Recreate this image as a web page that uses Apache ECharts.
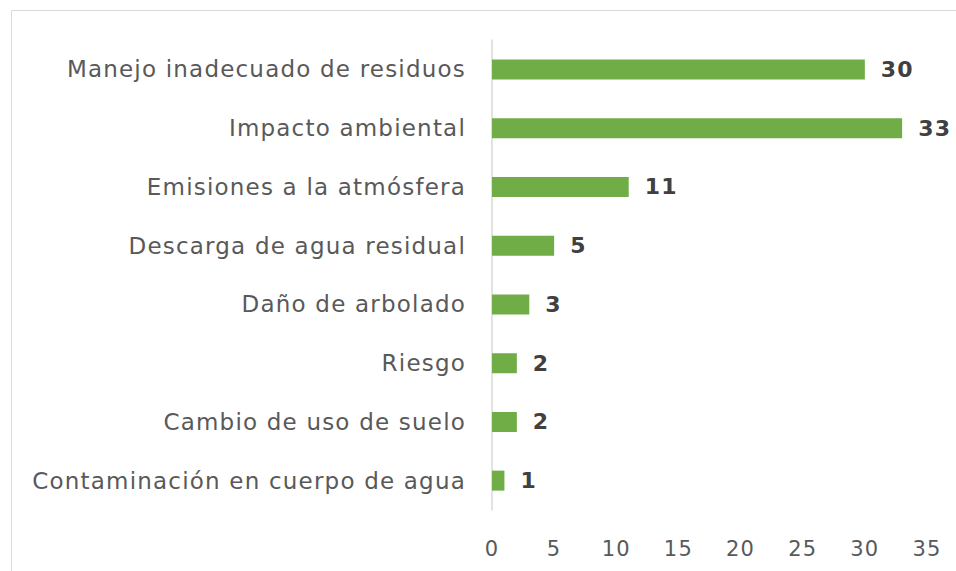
<!DOCTYPE html>
<html>
<head>
<meta charset="utf-8">
<script src="https://cdn.jsdelivr.net/npm/echarts@6/dist/echarts.min.js"></script>
<style>
html,body{margin:0;padding:0;background:#fff;}
#c{width:956px;height:571px;}
#c svg text{letter-spacing:1.2px;}
</style>
</head>
<body>
<div id="c"></div>
<script>
const categories = [
  "Manejo inadecuado de residuos",
  "Impacto ambiental",
  "Emisiones a la atmósfera",
  "Descarga de agua residual",
  "Daño de arbolado",
  "Riesgo",
  "Cambio de uso de suelo",
  "Contaminación en cuerpo de agua"
];
const values = [30, 33, 11, 5, 3, 2, 2, 1];
const axisMin = 0, axisMax = 35, axisStep = 5;

const chart = echarts.init(document.getElementById('c'), null, {renderer: 'svg'});
chart.setOption({
  animation: false,
  backgroundColor: '#ffffff',
  graphic: [{
    type: 'rect', silent: true,
    shape: {x: 11.5, y: 10.5, width: 1000, height: 600},
    style: {fill: 'none', stroke: '#d9d9d9', lineWidth: 1}
  }],
  grid: {left: 492, right: 29, top: 40, bottom: 61, containLabel: false},
  xAxis: {
    type: 'value', min: axisMin, max: axisMax, interval: axisStep,
    axisLine: {show: false}, axisTick: {show: false}, splitLine: {show: false},
    axisLabel: {color: '#595959', fontFamily: 'DejaVu Sans', fontSize: 21, margin: 28}
  },
  yAxis: {
    type: 'category', data: categories, inverse: true,
    axisLine: {show: true, lineStyle: {color: '#d9d9d9', width: 1.5}},
    axisTick: {show: false},
    axisLabel: {color: '#595959', fontFamily: 'DejaVu Sans', fontSize: 23, margin: 26}
  },
  series: [{
    type: 'bar', data: values, barWidth: 20,
    itemStyle: {color: '#70ad47'},
    label: {show: true, position: 'right', distance: 16, color: '#404040',
      fontFamily: 'DejaVu Sans', fontWeight: 'bold', fontSize: 22}
  }]
});
</script>
</body>
</html>
